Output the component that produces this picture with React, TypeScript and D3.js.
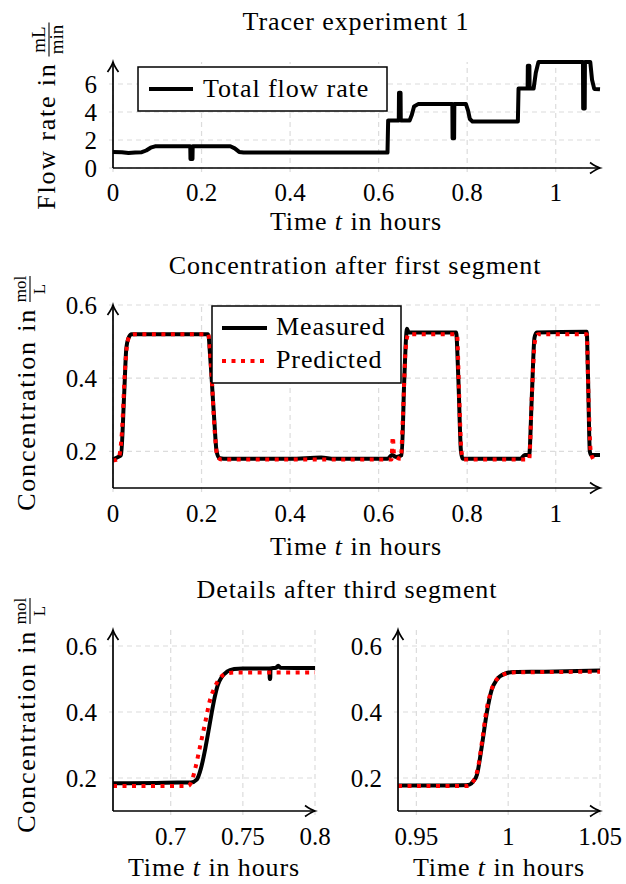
import React from "react";
import * as d3 from "d3";

// ---------- data ----------
const flowData: [number, number][] = [
  [0, 1.15], [0.02, 1.12], [0.035, 1.07], [0.05, 1.11], [0.065, 1.13], [0.075, 1.25], [0.085, 1.45],
  [0.095, 1.55], [0.1745, 1.55], [0.175, 0.65], [0.1795, 0.65], [0.18, 1.55], [0.265, 1.55],
  [0.275, 1.4], [0.285, 1.15], [0.295, 1.1], [0.62, 1.1], [0.6215, 3.4], [0.6455, 3.4], [0.646, 5.38],
  [0.6495, 5.38], [0.65, 3.4], [0.67, 3.4], [0.675, 3.8], [0.68, 4.4], [0.69, 4.58], [0.7665, 4.58],
  [0.767, 2.13], [0.7705, 2.13], [0.771, 4.58], [0.797, 4.58], [0.802, 4.1], [0.806, 3.5], [0.812, 3.32],
  [0.9145, 3.32], [0.916, 5.67], [0.9365, 5.67], [0.937, 7.3], [0.9405, 7.3], [0.941, 5.67],
  [0.95, 5.67], [0.955, 6.8], [0.961, 7.58], [1.0615, 7.58], [1.062, 4.25], [1.0655, 4.25],
  [1.066, 7.58], [1.078, 7.58], [1.082, 6.3], [1.087, 5.65], [1.1, 5.62],
];

const concMeasured: [number, number][] = [
  [0, 0.178], [0.012, 0.185], [0.018, 0.19], [0.025, 0.35], [0.03, 0.48], [0.035, 0.51], [0.042, 0.52],
  [0.215, 0.52], [0.22, 0.45], [0.228, 0.3], [0.234, 0.2], [0.24, 0.182], [0.25, 0.18], [0.4, 0.18],
  [0.47, 0.183], [0.5, 0.18], [0.62, 0.18], [0.63, 0.19], [0.64, 0.185], [0.652, 0.19], [0.658, 0.4],
  [0.664, 0.535], [0.668, 0.525], [0.775, 0.525], [0.78, 0.4], [0.786, 0.2], [0.79, 0.18], [0.92, 0.18],
  [0.93, 0.19], [0.94, 0.19], [0.946, 0.35], [0.952, 0.51], [0.957, 0.525], [1.07, 0.527],
  [1.073, 0.4], [1.077, 0.2], [1.08, 0.19], [1.1, 0.19],
];

const concPredicted: [number, number][] = [
  [0, 0.175], [0.012, 0.18], [0.02, 0.25], [0.027, 0.42], [0.033, 0.5], [0.04, 0.518], [0.05, 0.52],
  [0.215, 0.52], [0.222, 0.42], [0.23, 0.25], [0.236, 0.185], [0.245, 0.178], [0.629, 0.178],
  [0.632, 0.24], [0.635, 0.19], [0.65, 0.18], [0.655, 0.3], [0.661, 0.48], [0.667, 0.52],
  [0.777, 0.52], [0.782, 0.35], [0.787, 0.2], [0.792, 0.178], [0.94, 0.178], [0.946, 0.35],
  [0.953, 0.5], [0.96, 0.52], [1.07, 0.52], [1.074, 0.35], [1.079, 0.2], [1.085, 0.178], [1.09, 0.172],
];

const detailAMeasured: [number, number][] = [
  [0.66, 0.184], [0.69, 0.185], [0.705, 0.186], [0.714, 0.186], [0.718, 0.195], [0.721, 0.23],
  [0.724, 0.29], [0.7265, 0.35], [0.7285, 0.4], [0.7305, 0.445], [0.7325, 0.48], [0.7355, 0.507],
  [0.739, 0.522], [0.744, 0.53], [0.75, 0.532], [0.7685, 0.532], [0.7686, 0.5], [0.769, 0.5],
  [0.7691, 0.532], [0.773, 0.534], [0.7745, 0.54], [0.776, 0.534], [0.8, 0.533],
];

const detailAPredicted: [number, number][] = [
  [0.66, 0.176], [0.7, 0.176], [0.712, 0.176], [0.7145, 0.19], [0.7168, 0.225], [0.7203, 0.295],
  [0.7238, 0.366], [0.7272, 0.436], [0.7307, 0.477], [0.7341, 0.503], [0.7397, 0.518],
  [0.7457, 0.52], [0.8, 0.52],
];

const detailBMeasured: [number, number][] = [
  [0.94, 0.177], [0.96, 0.177], [0.975, 0.178], [0.979, 0.18], [0.981, 0.19], [0.983, 0.21],
  [0.9856, 0.295], [0.9883, 0.396], [0.991, 0.467], [0.9937, 0.497], [0.9982, 0.516], [1.003, 0.521],
  [1.02, 0.522], [1.05, 0.526],
];

const detailBPredicted: [number, number][] = [
  [0.94, 0.176], [0.978, 0.176], [0.981, 0.19], [0.9835, 0.23], [0.986, 0.32], [0.988, 0.4],
  [0.9905, 0.46], [0.9935, 0.497], [0.998, 0.515], [1.003, 0.52], [1.05, 0.522],
];

const flowXTicks = [0, 0.2, 0.4, 0.6, 0.8, 1];
const flowYTicks = [0, 2, 4, 6];
const concXTicks = [0, 0.2, 0.4, 0.6, 0.8, 1];
const concYTicks = [0.2, 0.4, 0.6];
const detailAXTicks = [0.7, 0.75, 0.8];
const detailBXTicks = [0.95, 1, 1.05];

const titles = ["Tracer experiment 1", "Concentration after first segment", "Details after third segment"];
const legendFlow = ["Total flow rate"];
const legendConc = ["Measured", "Predicted"];

// ---------- styling ----------
const FONT = "'Liberation Serif', 'Times New Roman', serif";
const TICK_FS = 25;
const TEXT_FS = 26;
const LS = 0.9;
const GRID = "#dcdcdc";

type Series = { data: [number, number][]; kind: "black" | "red" };

function fmt(v: number) {
  return String(+v.toFixed(2));
}

function rightArrow(x: number, y: number) {
  return `M${x - 10},${y - 5.5} Q${x - 4},${y - 1.2} ${x},${y} Q${x - 4},${y + 1.2} ${x - 10},${y + 5.5}`;
}
function upArrow(x: number, y: number) {
  return `M${x - 5.5},${y + 10} Q${x - 1.2},${y + 4} ${x},${y} Q${x + 1.2},${y + 4} ${x + 5.5},${y + 10}`;
}

function TimeLabel({ x, y }: { x: number; y: number }) {
  return (
    <text x={x} y={y} textAnchor="middle" fontSize={TEXT_FS} letterSpacing={LS} fontFamily={FONT}>
      <tspan>Time </tspan>
      <tspan fontStyle="italic">t</tspan>
      <tspan> in hours</tspan>
    </text>
  );
}

function Panel(props: {
  xDomain: [number, number];
  xRange: [number, number];
  yDomain: [number, number];
  yRange: [number, number];
  axisTop: number;
  xTicks: number[];
  yTicks: number[];
  tickLabelY: number;
  series: Series[];
  smooth: boolean;
}) {
  const { xDomain, xRange, yDomain, yRange, axisTop, xTicks, yTicks, tickLabelY, series, smooth } = props;
  const xs = d3.scaleLinear().domain(xDomain).range(xRange);
  const ys = d3.scaleLinear().domain(yDomain).range(yRange);
  const x0 = xRange[0];
  const x1 = xRange[1];
  const yb = yRange[0];
  const line = d3
    .line<[number, number]>()
    .x((d) => xs(d[0]))
    .y((d) => ys(d[1]))
    .curve(smooth ? d3.curveMonotoneX : d3.curveLinear);
  return (
    <g>
      {/* grid */}
      {xTicks.map((t) => (
        <line key={"gx" + t} x1={xs(t)} x2={xs(t)} y1={yb + 4} y2={axisTop} stroke={GRID} strokeWidth={1.2} strokeDasharray="5 4" />
      ))}
      {yTicks.map((t) => (
        <line key={"gy" + t} x1={x0 - 4} x2={x1} y1={ys(t)} y2={ys(t)} stroke={GRID} strokeWidth={1.2} strokeDasharray="5 4" />
      ))}
      {/* series */}
      {series.map((s, i) =>
        s.kind === "black" ? (
          <path key={i} d={line(s.data) || ""} fill="none" stroke="#000" strokeWidth={4} strokeLinejoin="round" />
        ) : (
          <path key={i} d={line(s.data) || ""} fill="none" stroke="#ff0000" strokeWidth={4} strokeDasharray="4 5.5" />
        )
      )}
      {/* axes */}
      <line x1={x0} x2={x1} y1={yb} y2={yb} stroke="#000" strokeWidth={1.7} />
      <line x1={x0} x2={x0} y1={yb} y2={axisTop} stroke="#000" strokeWidth={1.7} />
      <path d={rightArrow(x1, yb)} fill="none" stroke="#000" strokeWidth={1.7} />
      <path d={upArrow(x0, axisTop)} fill="none" stroke="#000" strokeWidth={1.7} />
      {/* tick labels */}
      {xTicks.map((t) => (
        <text key={"tx" + t} x={xs(t)} y={tickLabelY} textAnchor="middle" fontSize={TICK_FS} fontFamily={FONT}>
          {fmt(t)}
        </text>
      ))}
      {yTicks.map((t) => (
        <text key={"ty" + t} x={x0 - 16} y={ys(t) + 9} textAnchor="end" fontSize={TICK_FS} fontFamily={FONT}>
          {fmt(t)}
        </text>
      ))}
    </g>
  );
}

function YLabel(props: {
  ox: number;
  oy: number;
  text: string;
  fracX: number;
  barLen: number;
  num: string;
  den: string;
  numY: number;
  barY: number;
  denY: number;
  fracFs: number;
}) {
  const { ox, oy, text, fracX, barLen, num, den, numY, barY, denY, fracFs } = props;
  return (
    <g transform={`translate(${ox},${oy}) rotate(-90)`} fontFamily={FONT}>
      <text x={fracX - barLen / 2 - 6} y={0} textAnchor="end" fontSize={TEXT_FS} letterSpacing={1.8}>
        {text}
      </text>
      <text x={fracX} y={numY} textAnchor="middle" fontSize={fracFs}>
        {num}
      </text>
      <line x1={fracX - barLen / 2} x2={fracX + barLen / 2} y1={barY} y2={barY} stroke="#000" strokeWidth={1.1} />
      <text x={fracX} y={denY} textAnchor="middle" fontSize={fracFs}>
        {den}
      </text>
    </g>
  );
}

export default function App() {
  return (
    <svg width={626} height={884} style={{ display: "block", position: "absolute", left: 0, top: 0, background: "#fff" }}>
      <rect x={0} y={0} width={626} height={884} fill="#fff" />
      {/* ---------- top panel ---------- */}
      <text x={356} y={30} textAnchor="middle" fontSize={TEXT_FS} letterSpacing={LS} fontFamily={FONT}>
        {titles[0]}
      </text>
      <Panel
        xDomain={[0, 1.1]}
        xRange={[113, 600]}
        yDomain={[0, 7.6]}
        yRange={[168, 61.6]}
        axisTop={62}
        xTicks={flowXTicks}
        yTicks={flowYTicks}
        tickLabelY={201}
        series={[{ data: flowData, kind: "black" }]}
        smooth={false}
      />
      <g fontFamily={FONT}>
        <rect x={138} y={67} width={249} height={44} fill="#fff" stroke="#000" strokeWidth={1.5} />
        <line x1={149} x2={193} y1={89} y2={89} stroke="#000" strokeWidth={4} />
        <text x={203} y={97} fontSize={TEXT_FS} letterSpacing={LS}>
          {legendFlow[0]}
        </text>
      </g>
      <TimeLabel x={356} y={230} />
      <YLabel ox={55} oy={213} text="Flow rate in" fracX={173.5} barLen={34} num="mL" den="min" numY={-10} barY={-6} denY={8} fracFs={19} />

      {/* ---------- middle panel ---------- */}
      <text x={355} y={274} textAnchor="middle" fontSize={TEXT_FS} letterSpacing={LS} fontFamily={FONT}>
        {titles[1]}
      </text>
      <Panel
        xDomain={[0, 1.1]}
        xRange={[113, 600]}
        yDomain={[0.1, 0.6]}
        yRange={[488, 305]}
        axisTop={305}
        xTicks={concXTicks}
        yTicks={concYTicks}
        tickLabelY={522}
        series={[
          { data: concMeasured, kind: "black" },
          { data: concPredicted, kind: "red" },
        ]}
        smooth={true}
      />
      <g fontFamily={FONT}>
        <rect x={212} y={306} width={189} height={77} fill="#fff" stroke="#000" strokeWidth={1.5} />
        <line x1={222} x2={267} y1={328} y2={328} stroke="#000" strokeWidth={4} />
        <line x1={222} x2={267} y1={361} y2={361} stroke="#ff0000" strokeWidth={4} strokeDasharray="4 5.5" />
        <text x={276} y={335} fontSize={TEXT_FS} letterSpacing={LS}>
          {legendConc[0]}
        </text>
        <text x={276} y={368} fontSize={TEXT_FS} letterSpacing={LS}>
          {legendConc[1]}
        </text>
      </g>
      <TimeLabel x={356} y={555} />
      <YLabel ox={35} oy={517} text="Concentration in" fracX={228} barLen={26} num="mol" den="L" numY={-9} barY={-5} denY={10} fracFs={17} />

      {/* ---------- bottom panels ---------- */}
      <text x={347} y={598} textAnchor="middle" fontSize={TEXT_FS} letterSpacing={LS} fontFamily={FONT}>
        {titles[2]}
      </text>
      <Panel
        xDomain={[0.66, 0.8]}
        xRange={[113, 315]}
        yDomain={[0.1, 0.6]}
        yRange={[811, 646]}
        axisTop={630}
        xTicks={detailAXTicks}
        yTicks={concYTicks}
        tickLabelY={845}
        series={[
          { data: detailAMeasured, kind: "black" },
          { data: detailAPredicted, kind: "red" },
        ]}
        smooth={true}
      />
      <TimeLabel x={214} y={876} />
      <Panel
        xDomain={[0.94, 1.05]}
        xRange={[398, 600]}
        yDomain={[0.1, 0.6]}
        yRange={[811, 646]}
        axisTop={630}
        xTicks={detailBXTicks}
        yTicks={concYTicks}
        tickLabelY={845}
        series={[
          { data: detailBMeasured, kind: "black" },
          { data: detailBPredicted, kind: "red" },
        ]}
        smooth={true}
      />
      <TimeLabel x={499} y={876} />
      <YLabel ox={35} oy={837} text="Concentration in" fracX={226} barLen={26} num="mol" den="L" numY={-9} barY={-5} denY={10} fracFs={17} />
    </svg>
  );
}
